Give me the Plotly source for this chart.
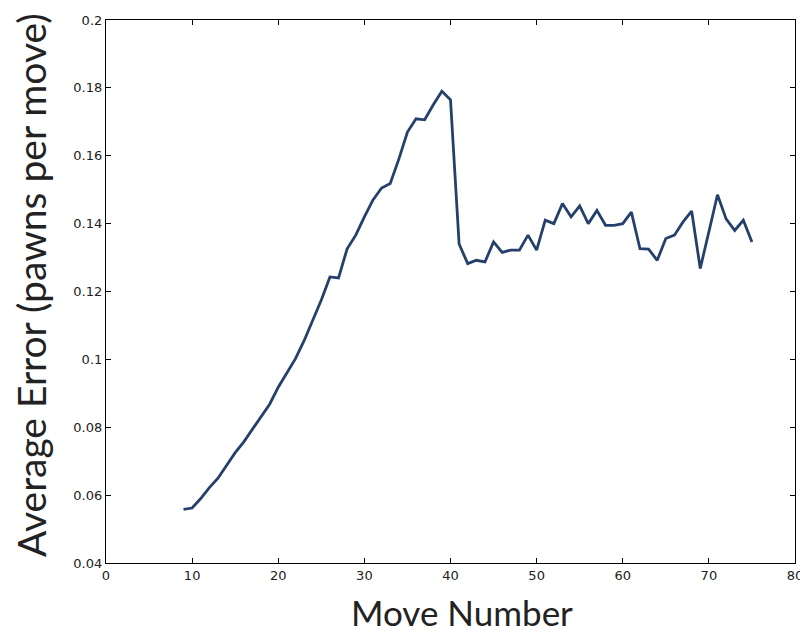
import plotly.graph_objects as go

moves = list(range(9, 76))
avg_error = [
    0.0558, 0.0562, 0.0590, 0.0622, 0.0650, 0.0688, 0.0725, 0.0757, 0.0795, 0.0832,
    0.0868, 0.0918, 0.0958, 0.1002, 0.1055, 0.1115, 0.1175, 0.1243, 0.1240, 0.1326,
    0.1366, 0.1420, 0.1470, 0.1505, 0.1518, 0.1590, 0.1670, 0.1709, 0.1706, 0.1750,
    0.1790, 0.1765, 0.1340, 0.1282, 0.1292, 0.1287, 0.1346, 0.1315, 0.1322, 0.1322,
    0.1366, 0.1322, 0.1410, 0.1400, 0.1459, 0.1420, 0.1452, 0.1400, 0.1439, 0.1395,
    0.1395, 0.1400, 0.1434, 0.1326, 0.1325, 0.1292, 0.1356, 0.1366, 0.1405, 0.1437,
    0.1268, 0.1376, 0.1485, 0.1414, 0.1380, 0.1410, 0.1346,
]

x_ticks = [0, 10, 20, 30, 40, 50, 60, 70, 80]
y_ticks = [0.04, 0.06, 0.08, 0.1, 0.12, 0.14, 0.16, 0.18, 0.2]
y_tick_labels = ["0.04", "0.06", "0.08", "0.1", "0.12", "0.14", "0.16", "0.18", "0.2"]
x_title = "Move Number"
y_title = "Average Error (pawns per move)"

fig = go.Figure()
fig.add_trace(go.Scatter(
    x=moves, y=avg_error, mode="lines",
    line=dict(color="#25406b", width=2.8),
    showlegend=False,
))

axis_common = dict(
    showgrid=False, zeroline=False, showline=True, linecolor="black", linewidth=1.2,
    mirror="ticks", ticks="inside", ticklen=5, tickcolor="black", tickwidth=1,
    tickfont=dict(family="DejaVu Sans", size=13, color="#222"),
    automargin=False,
)

fig.update_layout(
    width=800, height=634,
    margin=dict(l=98, r=13, t=12, b=79),
    paper_bgcolor="white", plot_bgcolor="white",
    xaxis=dict(range=[0, 80], tickvals=x_ticks, **axis_common),
    yaxis=dict(range=[0.04, 0.2], tickvals=y_ticks, ticktext=y_tick_labels, **axis_common),
    annotations=[
        dict(text=x_title, xref="paper", yref="paper", x=0.517, y=-0.09,
             xanchor="center", yanchor="middle", showarrow=False,
             font=dict(family="Lato", size=35, color="#222")),
        dict(text=y_title, xref="paper", yref="paper", x=-0.109, y=0.512,
             xanchor="center", yanchor="middle", showarrow=False, textangle=-90,
             font=dict(family="Lato", size=39, color="#222")),
    ],
)

fig.write_html("out.html")
